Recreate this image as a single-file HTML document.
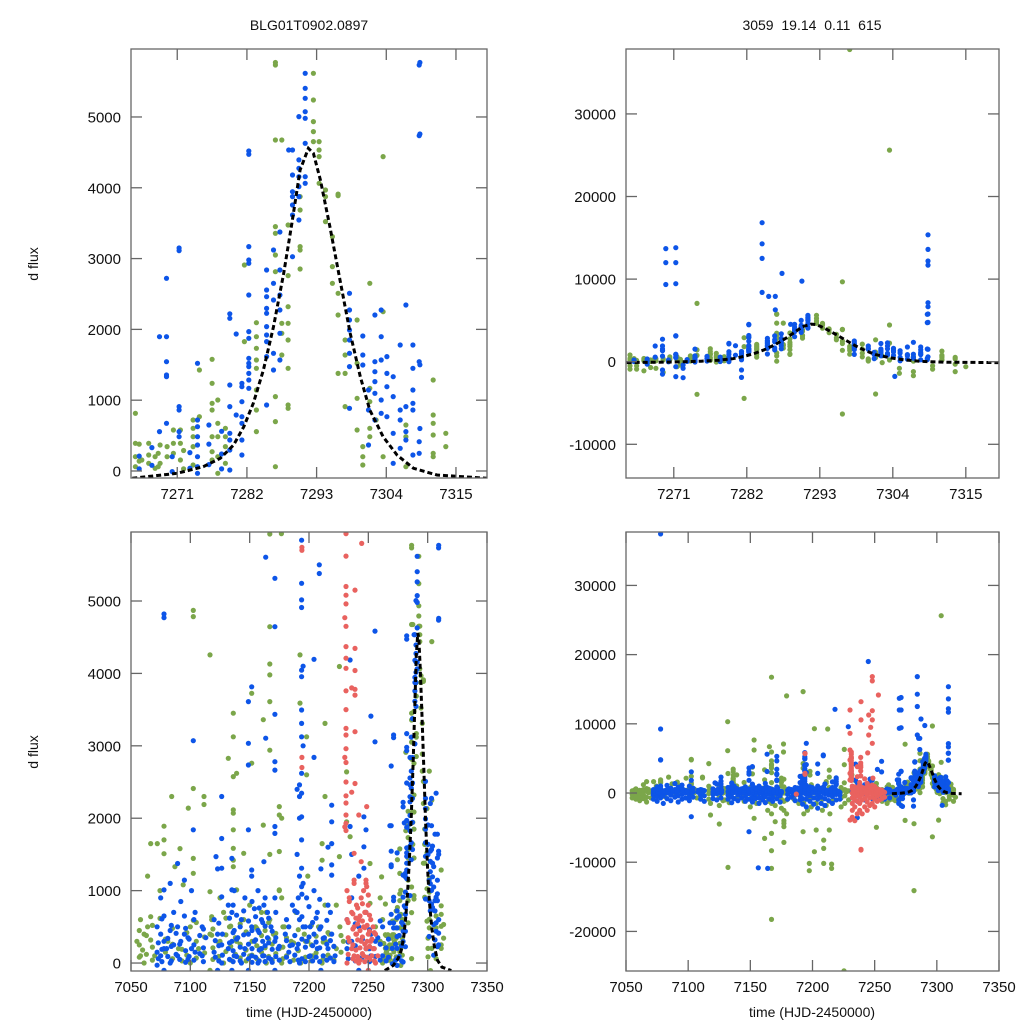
<!DOCTYPE html>
<html><head><meta charset="utf-8">
<style>
html,body{margin:0;padding:0;background:#fff;overflow:hidden;width:1024px;height:1024px;}
svg{display:block;font-family:"Liberation Sans",sans-serif;}
</style></head>
<body>
<svg id="chart" width="1024" height="1024" viewBox="0 0 1024 1024" xmlns="http://www.w3.org/2000/svg">
<rect width="1024" height="1024" fill="#fff"/>
<text x="309" y="30" font-size="14" text-anchor="middle" fill="#111">BLG01T0902.0897</text>
<text x="812" y="30" font-size="14" text-anchor="middle" fill="#111" xml:space="preserve">3059  19.14  0.11  615</text>
<text transform="translate(38,264) rotate(-90)" font-size="14" text-anchor="middle" fill="#111">d flux</text>
<text transform="translate(38,752) rotate(-90)" font-size="14" text-anchor="middle" fill="#111">d flux</text>
<text x="309" y="1017" font-size="14" text-anchor="middle" fill="#111">time (HJD-2450000)</text>
<text x="812" y="1017" font-size="14" text-anchor="middle" fill="#111">time (HJD-2450000)</text>
</svg>
<script>
// ---- data (grouped as [time, [flux values...]]) ----
const greenCols = [
[7055,[-700,-200,300]],[7058,[-900,-400,100,600]],[7059.8,[180]],[7061,[-1100,-500,0,400]],[7064,[-800,-200,500,1200]],
[7066.6,[1650,640,318,-1300,-600]],[7070,[-700,100]],[7072.2,[1650]],[7074.4,[1000,617]],[7077.8,[1890,1700,1510]],
[7081,[-500,300]],[7084.3,[2300]],[7087,[1330]],[7090,[-400,200]],[7091.3,[1580]],[7094,[1080]],[7098.3,[2140]],
[7100,[-800,0,500]],[7102.5,[2410,4785,590,1445,1240,4870]],[7107,[-700,200]],[7111.5,[2300,2190]],[7116.6,[4255,985,-900,-100,400]],
[7118,[-1500,600,-3180,385,640]],[7125,[-1800,-600,300,900,-4480]],[7128,[-1100,0,700]],[7129.6,[-1000]],[7131.8,[10300,6120]],[7132,[2827,-10750]],
[7133,[-1400,-300,500]],[7136.2,[3450,3125,2575,2115,2070,1840,1585,1420,1330]],[7139,[-700,300,2620,1010]],[7145,[-1200,-200,600,1515]],
[7150,[-2000,-800,100,800]],[7151.7,[3725,2760]],[7153,[7660,6220,-3660]],[7155,[-1500,-300,500]],[7159,[-1000,200]],[7161.5,[3360,1905,-6555]],
[7164,[-2500,-1200,0,700]],[7165.3,[6700]],[7167,[3610,4645,2940,4130,3980,5925,-3000,-1500,-300,600,1500,16730,-18270,-10890,-8340,-5830]],
[7170,[-1800,-500,400,-4145]],[7175,[-2200,-900,200,1000,2160,1540,1010,2045]],[7176.7,[5930,7090]],
[7177,[-4000,-2500,-1200,0,900,2000,-7130,-4870,-4390]],[7179.2,[14030,-3000,-1000,500]],[7185,[-900,300]],[7189,[-1500,-200,700]],
[7192.4,[4255,3590,14650,-5590]],[7193,[-3000,-1500,0]],[7196,[-2500,-800,400]],[7198,[3125,2600]],[7199,[-2000,-600,300,1200]],
[7197.4,[-10170,-11230]],[7201.5,[9300,-8480]],[7203,[-1500,100,-5350]],[7208,[-2500,-900,500]],[7209,[-10170,-8000,-6800]],
[7211,[-1800,0,1420,1650]],[7212.2,[9250]],[7213.5,[3310,2300,800,-5350]],[7214,[-3000,-1200,300]],[7215.4,[-10270,-10890]],
[7217,[-1000,400]],[7223,[-2000,-700,200,800]],[7225.3,[-25700]],[7225.6,[4095,1470,6310]],[7226,[-1500,-400,500]],[7229,[-1000,300]],
[7231.7,[2640,1950]],[7234.6,[1745]],[7250,[-700,200]],[7251.4,[1375,825,-4960]],[7256,[-1200,-300,500]],[7260,[-1500,-500,300,900]],
[7261.2,[1190]],[7262,[-1000,0,600]],
[7264.4,[815,391,202,61,-500,-900]],[7265.4,[155,-900,-500]],[7266.5,[391,226,108,-1100]],[7267.5,[202,38,-700]],[7268.3,[367,108,-800]],
[7269.4,[344,202,-1300]],[7270.4,[579,391,250]],[7271.5,[579,391,155,-600]],[7273.5,[720,603,485,344,85]],[7274.5,[767,1427,7060,-3950]],
[7276.5,[1577,1238,956,862,485,273,155]],[7277.4,[1003,673,485,202,-33]],[7278.6,[603,485,344,108]],[7281.6,[2910,1827,-4440,-14100]],
[7283.5,[2095,1897,1733,1568,1450,1144,862,556]],[7286.5,[5734,4675,3451,3357,3051,2815,1050,697,61,5770]],[7287.5,[4675,2086,1944,1638]],
[7288.5,[3474,2759,2321,2086,1850,1450,932,885]],[7290.4,[3875,3686,3169,3121,2853]],[7292.5,[5617,5240,4934,4793,4652]],
[7293.4,[4652,4534,4440,4063]],[7294.4,[3969,3875,3522]],[7295.5,[3310,2887,2651]],[7296.4,[3889,2509,2203,1379,9680,3910,-6330]],
[7297.5,[1850,1638,1379,909,37800]],[7299.4,[2133,1521,1026,579]],[7300.3,[344,202,85]],[7301.4,[2651,1168,979,603,485,-3910]],
[7302.4,[720,-104]],[7303.5,[4440,2250,202,25620]],[7305,[-1400,-800]],[7307.1,[650,485,61,-1200,-1700]],[7310,[-900,-500]],
[7311.4,[1285,791,673,508,250,202]],[7313.4,[532,344,-1200,-300]],[7315,[-600]]
];
const greenExtraCols = [
[7057,[80,250,450]],[7063,[120,380]],[7068,[40,220,520]],[7079,[150,330]],[7085,[60,260,480]],[7093,[30,190]],[7097,[110,420]],
[7105,[70,300,560]],[7112,[140,360]],[7119,[50,210,470]],[7124,[90,280]],[7130,[160,390,620]],[7134,[40,230,510]],[7138,[120,350]],
[7142,[70,260,540]],[7147,[30,180,430]],[7152,[110,300]],[7156,[60,240,480]],[7160,[150,380,700]],[7163,[20,210,450]],
[7166,[90,330,560]],[7169,[40,260]],[7172,[130,410]],[7178,[60,220,500]],[7181,[100,350]],[7187,[40,280]],[7191,[170,460]],
[7197,[80,300]],[7202,[30,250,520]],[7206,[140,370]],[7212,[60,290]],[7216,[110,420]],[7221,[40,230]],[7227,[150,380]],
[7263,[60,270,-300]],[7265,[140,380]],[7268,[60,250]],[7272,[30,290,-400]]
];
const blueCols = [
[7072,[-900,-300,150,500,-30]],[7075,[-1200,-500,100,400,900]],[7077.8,[4820,1010,200,37450,9250,4770,-700,-100,300,650]],
[7080,[-1500,-400,200]],[7083,[-800,0,450,1100]],[7086,[-1100,-300,250,700]],[7089.3,[1375,-600,100,500]],[7092,[-1300,-400,300,850]],
[7095,[-900,-200,400,650,1145]],[7098,[-700,50,350]],[7101,[-1100,-500,200,1000]],[7102.5,[1840,3070,-3420]],[7104,[-600,150,700]],
[7110,[-900,-300,100,500]],[7113,[-1200,-400,350]],[7120,[-800,-200,150,600]],[7121.6,[1470]],[7123,[-1000,-100,400,1300]],
[7126.4,[2300,1720,1310,915,-700,0,250]],[7132,[-900,-300,200,800]],[7135,[-1400,-600,-100,300,700,1010,1445]],[7137,[-800,100,450,1000]],
[7140,[-1100,-300,350]],[7143,[-700,0,600]],[7146,[-1200,-500,200,900]],[7148.9,[3610,3035,2735,1840,-900,-100,400,-5590]],
[7151.7,[3815,1285,-1300,-600,100,500,1200]],[7154,[-800,-200,300,750]],[7156.4,[-10800]],[7157,[-1500,-700,0,450,1000]],
[7160,[-1000,-300,200,600]],[7162,[-1400,-500,100,800,1400]],[7163.5,[5605,3105]],[7164,[-10900]],[7165,[-900,-200,350,700]],
[7168,[-1200,-600,50,500]],[7171.3,[5313,4645,3435,2780,2665,1885,1790,-800,-100,300,900]],[7174,[-1300,-400,200]],
[7180,[-900,-200,400]],[7183,[-600,150,500]],[7186,[-1100,-300,250,800]],[7190,[-1000,-400,200,700,1500,2400]],
[7192,[-1600,-800,0,600,1200,2000,2460,2300]],[7193.8,[5840,5015,5245,4910,4045,3955,3495,3310,3125,2620,2345,2020,1700,1310,1055]],
[7195,[-2000,-900,-200,500,1100,3000,4100,7180]],[7198,[-1200,-400,300,900]],[7201,[-1600,-700,100,500]],
[7204.2,[4195,2840,-2200,-900,-300,400,1000]],[7207,[-1500,-600,200,700]],[7208.7,[5380,5500]],[7210,[-1800,-800,-100,500,1300]],
[7213,[-1100,-300,350]],[7216,[-1500,-500,200,800,1600]],[7218.1,[12100]],[7219.1,[2180,1950,1650,1355,1215,-1000,-200,400]],
[7222,[-900,-300,100]],[7228.8,[9590]],[7232,[-700,200,600]],[7234.6,[4185,1885]],[7236,[-1200,-300,300,900,1500,-3570]],
[7242,[-1000,-100,500,1200]],[7244.9,[19000]],[7246.3,[2020,1605,1310]],[7248,[-800,200,700,1840]],[7252.2,[3410,-600,100,400]],
[7255.6,[4585,3055]],[7258,[-900,-200,350]],[7262,[-700,100,500]],
[7268.2,[1897,556]],[7269.3,[1897,1544,1356,1332,2721,673,-1500,-1000]],[7269.8,[13690,12000,9350]],[7270.2,[202,-9]],
[7271.3,[3112,909,862,556,485,13800,12000,9440,3150,-1800,-600]],[7272.4,[-1940,-800,-400]],
[7274.2,[1521,720,626,485,367,202,61,-33]],[7279.3,[2156,1215,909,532,438,297,14,2220]],[7280.3,[1935,791]],
[7281.2,[1238,1191,979,767,673,438,226,-1900,-1000]],[7282.3,[4473,3169,2980,2933,2486,1968,1874,1591,1521,1474,1379,1285,1168,4520]],
[7284.3,[16830,14280,12510,8390]],[7285.1,[2839,2556,2462,2297,2227,2039,1921,1827,1615,932]],[7285.3,[7910]],
[7286.2,[3121,2651,2415,1662,1427]],[7286.3,[7910,6290]],[7287.2,[3376,2839,2486,2274,1568,1944]],[7287.3,[10690]],
[7288.6,[4534]],[7289.2,[4534,4181,3945,3875,3757,3616,3027]],[7290.2,[5005,4393,4275,4157,4016,3875,3545]],[7290.3,[9760]],
[7291.2,[5617,5405,5264,5075,4981,4628,4063,4157]],[7298.2,[2509,2274,2133,1991,1850,1662,1474,885]],
[7300.3,[1907,1638,1497]],[7301.2,[1144,862,367]],[7302.2,[2203,1544,1403,1262,1097,720]],[7303.2,[2274,1897,1568,1003,815]],
[7304.1,[1615,1379,1191,767]],[7304.3,[-1780]],[7305.1,[1332,1050,532,108]],[7306.2,[1780,862,720,320]],[7307.1,[2345,909,556,438]],
[7308.2,[1780,1450,1144,956,862,226]],[7309.2,[1544,5734,4736,250,414]],[7309.3,[15370,13600,12190,11700,7140,6660,5770,4760,1500,600]]
];
const blueExtraCols = [
[7073,[60,280]],[7076,[20,190,610]],[7081,[90,340]],[7084,[30,230,520]],[7088,[120,410]],[7091,[50,260]],[7096,[10,170,480]],
[7099,[90,330]],[7103,[40,250,600]],[7108,[130,380]],[7111,[20,210,470]],[7121,[80,310]],[7124,[30,240,550]],[7127,[110,400]],
[7133,[50,280,620]],[7136,[20,170,420,800]],[7139,[90,330,660]],[7142,[30,220,500]],[7145,[120,390,720]],[7149,[60,260,580]],
[7152,[10,200,450,850]],[7155,[80,320,640]],[7158,[30,180,420,760]],[7161,[100,300,560]],[7163,[20,240,510,900]],
[7166,[70,280,620]],[7169,[10,190,440]],[7172,[90,350,700]],[7175,[40,230]],[7181,[80,310,600]],[7184,[20,240]],
[7188,[110,380,720]],[7191,[40,260,900]],[7194,[60,330,640,950]],[7197,[20,220,500]],[7200,[90,360,780]],[7203,[30,240,560]],
[7206,[80,290,620]],[7209,[20,210,470,880]],[7212,[100,340]],[7215,[40,260,590]],[7218,[70,310,700]],[7221,[20,230]],
[7233,[60,290]],[7239,[30,240,540]],[7245,[80,330]],[7251,[20,200,460]],[7256,[90,300]],[7260,[40,260,580]],
[7265,[30,210]],[7267,[80,330,-300]],[7273,[40,260]],[7276,[90,380,650]],[7278,[30,240,560]]
];
const redCols = [
[7194,[5700,2700,5740,2840]],[7187,[-150]],
[7230.2,[12000,8630,6220,4770,2840,1880,-3900]],
[7231.2,[5930,5620,5200,5080,4960,4650,4370,4210,4070,3760,3500,3240,3150,2960,2770,2500,2310,2210,2045,1930,1830]],
[7232,[-3500,-2500,-1500,-700,0,600,1000]],[7234,[-4000,-2000,-1000,-300,300,900,850]],[7236,[-3000,-1200,-400,200,700,3800,2360]],
[7238,[-2500,-1500,-600,100,500,1100,1515,1145]],[7238.8,[5150,4345,4040,3780,3700,3195,2480]],[7239,[13200,10560,-8150,-8240]],
[7240,[-3000,-1000,-200,400,800]],[7242,[-2000,-800,0,600,2045]],[7244,[-2500,-1300,-300,300,900,1400]],[7244.4,[5795]],
[7245.2,[11280,8390]],[7246,[-1800,-700,100,500,1000]],[7246.8,[9500]],[7248,[-1500,-600,200,700,1100,1145]],
[7248.1,[16820,16200,11900,10560,7180]],[7248.6,[2160,1055]],[7250,[-2000,-900,-100,400,800,940]],[7252,[-1200,-400,300,600]],
[7253,[14170]],[7254,[-1000,-200,200,500]],[7256,[-800,0,400]],[7258,[-600,100]]
];
const redExtraCols = [
[7233,[120,350,560]],[7237,[60,250,470,680]],[7239.5,[30,180,400,620]],[7241,[90,320,540,760]],[7243,[40,210,450,650]],
[7245,[130,360,580,820]],[7247,[20,260,490,700]],[7249,[80,300,520]],[7251,[50,230,440,660]],[7253,[100,330]],[7255,[30,200,420]]
];
const modelT = [7263.9,7271.0,7275.1,7277.8,7279.9,7281.5,7283.0,7284.6,7286.2,7287.8,7289.1,7290.4,7291.7,7292.5,7293.6,7295.1,7296.7,7298.3,7299.9,7301.4,7303.5,7305.7,7308.3,7312.0,7319.9];
const modelF = [-103,-33,61,179,367,626,956,1427,2038,2792,3499,4251,4558,4487,4110,3450,2698,1945,1332,862,484,226,38,-56,-103];
const xTicksZoom = [7271,7282,7293,7304,7315];
const xTicksFull = [7050,7100,7150,7200,7250,7300,7350];
const yTicksSmall = [0,1000,2000,3000,4000,5000];
const yTicksBigTop = [-10000,0,10000,20000,30000];
const yTicksBigBottom = [-20000,-10000,0,10000,20000,30000];

// ---- layout ----
const NS = "http://www.w3.org/2000/svg";
const svg = document.getElementById('chart');
const panels = [
 {id:'top-left', L:131,R:487,T:49,B:478, t0:7263.7,t1:7319.9, f0:-99,f1:5960, xt:xTicksZoom, yt:yTicksSmall},
 {id:'top-right', L:626,R:999,T:49,B:478, t0:7263.8,t1:7320, f0:-14080,f1:37860, xt:xTicksZoom, yt:yTicksBigTop},
 {id:'bottom-left', L:131,R:487,T:532,B:971, t0:7050,t1:7350, f0:-110,f1:5953, xt:xTicksFull, yt:yTicksSmall},
 {id:'bottom-right', L:626,R:999,T:532,B:971, t0:7050,t1:7350, f0:-25720,f1:37720, xt:xTicksFull, yt:yTicksBigBottom}
];
function mk(tag, attrs, parent){const e=document.createElementNS(NS,tag);for(const k in attrs)e.setAttribute(k,attrs[k]);(parent||svg).appendChild(e);return e;}

const defs = mk('defs',{});
panels.forEach(p=>{
  const xs = t => p.L + (t-p.t0)/(p.t1-p.t0)*(p.R-p.L);
  const ys = f => p.B - (f-p.f0)/(p.f1-p.f0)*(p.B-p.T);
  const cp = mk('clipPath',{id:'clip-'+p.id},defs);
  mk('rect',{x:p.L,y:p.T,width:p.R-p.L,height:p.B-p.T},cp);
  const g = mk('g',{'clip-path':'url(#clip-'+p.id+')'});
  
  
  const series = [[greenCols.concat(greenExtraCols),'#7ba64a','green'],[blueCols.concat(blueExtraCols),'#0d55e8','blue'],[redCols.concat(redExtraCols),'#e9625f','red']];
  series.forEach(([cols,color,nm])=>{
    const sg = mk('g',{fill:color},g);
    
    
    cols.forEach(([t,vals])=>{
      if(t<p.t0||t>p.t1) return;
      vals.forEach(f=>{
        if(f<p.f0||f>p.f1) return;
        const c = mk('circle',{cx:xs(t).toFixed(1),cy:ys(f).toFixed(1),r:2.6},sg);
        
        
      });
    });
  });
  let d='';
  modelT.forEach((t,i)=>{d+=(i?'L':'M')+xs(t).toFixed(1)+' '+ys(modelF[i]).toFixed(1);});
  const ml = mk('path',{d:d,fill:'none',stroke:'#000','stroke-width':3,'stroke-dasharray':'5,3'},g);
  
  
  const fr = mk('rect',{x:p.L,y:p.T,width:p.R-p.L,height:p.B-p.T,fill:'none',stroke:'#666','stroke-width':1.3});
  
  
  p.xt.forEach(t=>{
    const x = xs(t);
    mk('line',{x1:x,x2:x,y1:p.B,y2:p.B-11,stroke:'#666','stroke-width':1.3});
    mk('line',{x1:x,x2:x,y1:p.T,y2:p.T+11,stroke:'#666','stroke-width':1.3});
    const lb = mk('text',{x:x,y:p.B+21,'font-size':15,'text-anchor':'middle',fill:'#111'});
    lb.textContent = t;
    
    
  });
  p.yt.forEach(f=>{
    const y = ys(f);
    mk('line',{x1:p.L,x2:p.L+11,y1:y,y2:y,stroke:'#666','stroke-width':1.3});
    mk('line',{x1:p.R,x2:p.R-11,y1:y,y2:y,stroke:'#666','stroke-width':1.3});
    const lb = mk('text',{x:p.L-10,y:y+5.5,'font-size':15,'text-anchor':'end',fill:'#111'});
    lb.textContent = f;
    
    
  });
});
</script>
</body></html>
